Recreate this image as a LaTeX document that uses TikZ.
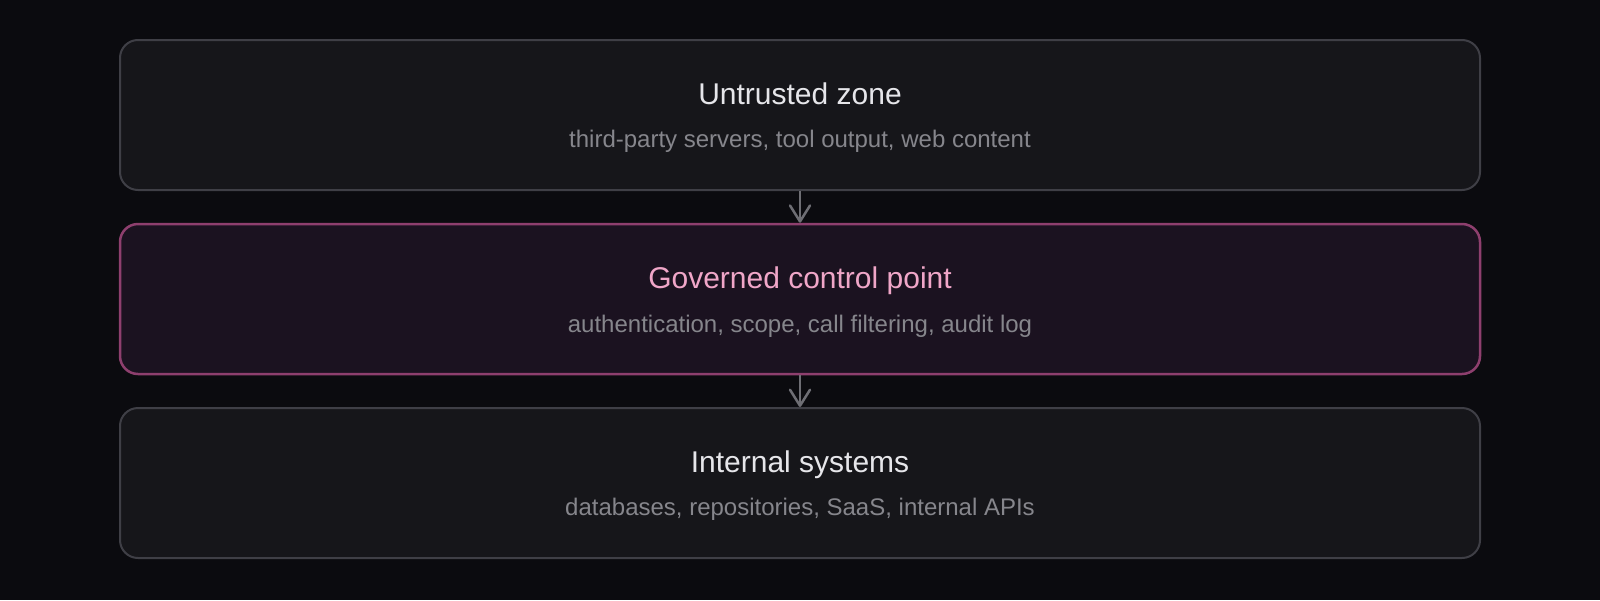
\documentclass[tikz,border=0pt]{standalone}
\usepackage{fontspec}
\setmainfont{Liberation Sans}
\usetikzlibrary{arrows.meta}
\definecolor{bg}{HTML}{0B0B0F}
\definecolor{boxfill}{HTML}{16161A}
\definecolor{boxline}{HTML}{3F3F46}
\definecolor{ctrlfill}{HTML}{1B1220}
\definecolor{ctrlline}{HTML}{8E3F6E}
\definecolor{titlecol}{HTML}{E6E6EA}
\definecolor{ctrltitle}{HTML}{F0A6C8}
\definecolor{subcol}{HTML}{86868C}
\definecolor{arrowcol}{HTML}{6E6E74}

\begin{document}
\begin{tikzpicture}[x=1pt, y=-1pt,
  zone/.style={draw=boxline, fill=boxfill, line width=2pt, rounded corners=18pt,
    minimum width=1360pt, minimum height=150pt, inner sep=0pt},
  ctrl/.style={zone, draw=ctrlline, fill=ctrlfill, line width=2.5pt},
  title/.style={anchor=base, text=titlecol, font=\fontsize{30}{36}\selectfont},
  sub/.style={anchor=base, text=subcol, font=\fontsize{24}{28}\selectfont},
  flow/.style={draw=arrowcol, line width=2.5pt,
    -{Straight Barb[length=16pt, width=20pt, line cap=round, line join=round]}}]
\fill[bg] (0,0) rectangle (1600,600);
\useasboundingbox (0,0) rectangle (1600,600);
% layers
\node[zone] (untrusted) at (800,115) {};
\node[ctrl] (control) at (800,299) {};
\node[zone] (internal) at (800,483) {};
% texts
\node[title] (untrusted title) at (800,104) {Untrusted zone};
\node[sub] (untrusted sub) at (800,147) {third-party servers, tool output, web content};
\node[title, text=ctrltitle] (control title) at (800,288) {Governed control point};
\node[sub] (control sub) at (800,332) {authentication, scope, call filtering, audit log};
\node[title] (internal title) at (800,472) {Internal systems};
\node[sub] (internal sub) at (800,515) {databases, repositories, SaaS, internal APIs};
% arrows
\draw[flow] (untrusted.south) -- (control.north);
\draw[flow] (control.south) -- (internal.north);
\end{tikzpicture}
\end{document}
